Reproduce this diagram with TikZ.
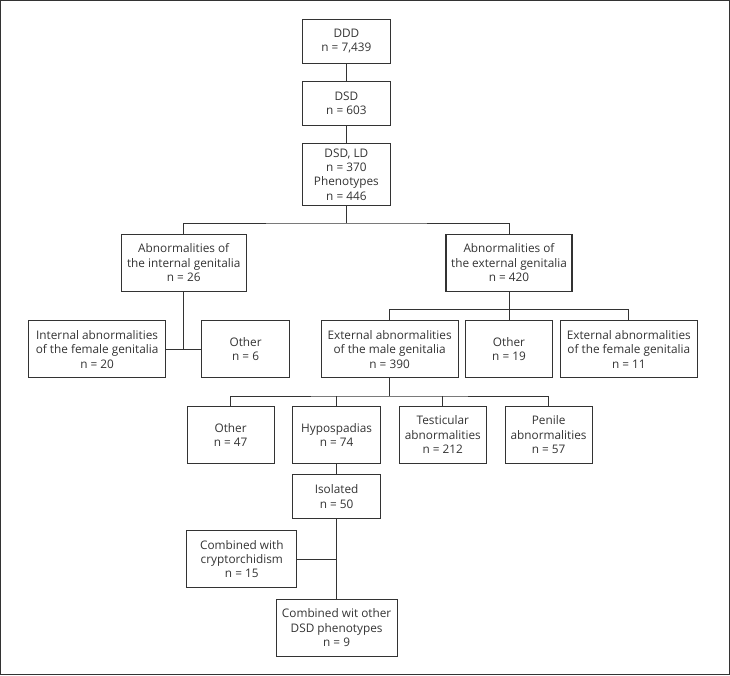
\documentclass[tikz,border=0pt]{standalone}
\usepackage{fontspec}
\setmainfont{Open Sans}
\definecolor{ink}{HTML}{333333}
\tikzset{
	box/.style={draw=ink, line width=1.1pt, text=ink, align=center, inner sep=0pt,
		font=\fontsize{11.8}{14.3}\selectfont},
	link/.style={draw=ink, line width=0.9pt}
}
\begin{document}
\begin{tikzpicture}[x=1pt,y=-1pt]
		\useasboundingbox (0,0) rectangle (730,675);
		\draw[ink, line width=1.2pt] (0.6,0.6) rectangle (729.4,674.4);
		% top column
		\node[box, minimum width=88pt, minimum height=44pt] (ddd) at (346.4,41.2) {DDD\\n = 7,439};
		\node[box, minimum width=88pt, minimum height=44pt] (dsd) at (346.4,103.2) {DSD\\n = 603};
		\node[box, minimum width=88pt, minimum height=62pt] (ld) at (346.4,174.5) {DSD, LD\\n = 370\\Phenotypes\\n = 446};
		% internal / external
		\node[box, minimum width=125pt, minimum height=57pt] (int) at (183.7,262.7) {Abnormalities of\\the internal genitalia\\n = 26};
		\node[box, minimum width=126pt, minimum height=57pt] (ext) at (509,262.7) {Abnormalities of\\the external genitalia\\n = 420};
		\node[box, minimum width=136.4pt, minimum height=57pt] (intf) at (97.1,349.3) {Internal abnormalities\\of the female genitalia\\n = 20};
		\node[box, minimum width=88pt, minimum height=57pt] (oth6) at (245.6,349.3) {Other\\n = 6};
		\node[box, minimum width=137pt, minimum height=57pt] (extm) at (389.6,349.3) {External abnormalities\\of the male genitalia\\n = 390};
		\node[box, minimum width=87.5pt, minimum height=57pt] (oth19) at (509,349.3) {Other\\n = 19};
		\node[box, minimum width=136.5pt, minimum height=57pt] (extf) at (628.8,349.3) {External abnormalities\\of the female genitalia\\n = 11};
		% male row
		\node[box, minimum width=87pt, minimum height=57pt] (oth47) at (230.6,434.8) {Other\\n = 47};
		\node[box, minimum width=88pt, minimum height=57pt] (hyp) at (336.6,434.8) {Hypospadias\\n = 74};
		\node[box, minimum width=87.5pt, minimum height=57pt] (test) at (442.8,434.8) {Testicular\\abnormalities\\n = 212};
		\node[box, minimum width=87pt, minimum height=57pt] (pen) at (548.6,434.8) {Penile\\abnormalities\\n = 57};
		% hypospadias
		\node[box, minimum width=88pt, minimum height=44pt] (iso) at (336.6,496.5) {Isolated\\n = 50};
		\node[box, minimum width=110pt, minimum height=57pt] (cry) at (241.8,559) {Combined with\\cryptorchidism\\n = 15};
		\node[box, minimum width=121pt, minimum height=57pt] (oth9) at (336.6,627.7) {Combined wit other\\DSD phenotypes\\n = 9};
		\coordinate (j1) at (346.4,223);
		\coordinate (j2) at (509,309.3);
		\coordinate (j3) at (389.6,396);
		\draw[link] (ddd) -- (dsd);
		\draw[link] (dsd) -- (ld);
		\draw[link] (ld.south) -- (j1);
		\draw[link] (int.north) |- (j1) -| (ext.north);
		\draw[link] (int.south) -- (int.south |- intf.east);
		\draw[link] (intf.east) -- (oth6.west);
		\draw[link] (ext) -- (oth19);
		\draw[link] (extm.north) |- (j2) -| (extf.north);
		\draw[link] (extm.south) -- (j3);
		\draw[link] (oth47.north) |- (j3) -| (pen.north);
		\draw[link] (hyp.north) -- (hyp.north |- j3);
		\draw[link] (test.north) -- (test.north |- j3);
		\draw[link] (hyp) -- (iso);
		\draw[link] (iso) -- (oth9);
		\draw[link] (cry.east) -- (cry.east -| iso.south);
	\end{tikzpicture}
\end{document}
